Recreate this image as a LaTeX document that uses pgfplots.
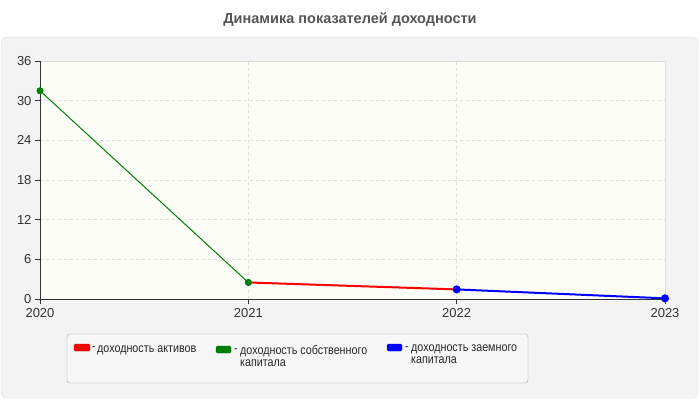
\documentclass[border=0pt]{standalone}
\usepackage{pgfplots}
\pgfplotsset{compat=1.18}
\usepackage{fontspec}
\setmainfont{Liberation Sans}
\definecolor{panel}{HTML}{F3F3F3}
\definecolor{panelborder}{HTML}{DDDDDD}
\definecolor{plotbg}{HTML}{FDFDF8}
\definecolor{gridc}{HTML}{DDDDDD}
\definecolor{axisc}{HTML}{333333}
\definecolor{titlec}{HTML}{555555}
\definecolor{lgreen}{HTML}{008000}
\definecolor{lred}{HTML}{FF0000}
\definecolor{lblue}{HTML}{0000FF}
\begin{document}
\begin{tikzpicture}
\path[use as bounding box] (0pt,0pt) rectangle (700pt,400pt);
\fill[white] (0pt,0pt) rectangle (700pt,400pt);
\draw[panelborder, fill=panel, rounded corners=6pt] (1pt,2pt) rectangle (698pt,363pt);
\node[font=\fontsize{14.5}{16}\selectfont\bfseries, text=titlec] at (350pt,380pt) {Динамика показателей доходности};
\begin{axis}[
  at={(40pt,101pt)}, anchor=south west,
  width=625pt, height=238pt, scale only axis,
  xmin=2020, xmax=2023, ymin=0, ymax=36,
  xtick={2020,2021,2022,2023},
  ytick={0,6,12,18,24,30,36},
  axis x line=bottom, axis y line=left,
  axis line style={axisc, -},
  axis background/.style={fill=plotbg, draw=gridc},
  grid=major, grid style={dashed, gridc, line width=0.6pt},
  tick align=outside, major tick length=5pt,
  tick style={axisc, line width=0.8pt},
  every tick label/.append style={font=\fontsize{13}{15}\selectfont, text=axisc},
  xticklabel style={yshift=-1pt},
  /pgf/number format/assume math mode=true,
  /pgf/number format/set thousands separator={},
  clip=false,
]
\addplot[lgreen, line width=1pt, mark=*, mark size=3pt, mark options={fill=lgreen}] coordinates {(2020,31.5) (2021,2.5)};
\addplot[lred, line width=2pt] coordinates {(2021,2.5) (2022,1.45)};
\addplot[lblue, line width=2pt, mark=*, mark size=3pt, mark options={fill=lblue}] coordinates {(2022,1.45) (2023,0.1)};
\addplot[only marks, lgreen, mark=*, mark size=3pt] coordinates {(2021,2.5)};
\end{axis}
% legend
\draw[draw=gray!70, fill=white!97!black, rounded corners=3pt] (67pt,17pt) rectangle (528pt,66pt);
\begin{scope}[font=\fontsize{12.5}{12.5}\selectfont, every node/.style={anchor=base west, inner sep=0pt, text=black!85, xscale=0.86}]
\draw[lred!80!black, fill=lred, rounded corners=1.5pt] (74pt,49pt) rectangle (90pt,56pt);
\node at (92pt,50pt) {-};
\node at (97pt,48pt) {доходность активов};
\draw[lgreen!80!black, fill=lgreen, rounded corners=1.5pt] (216pt,47pt) rectangle (231pt,54pt);
\node at (234pt,48pt) {-};
\node at (240pt,46pt) {доходность собственного};
\node at (240pt,34pt) {капитала};
\draw[lblue!80!black, fill=lblue, rounded corners=1.5pt] (387pt,49pt) rectangle (402pt,56pt);
\node at (405pt,50pt) {-};
\node at (411pt,48.5pt) {доходность заемного};
\node at (411pt,36.5pt) {капитала};
\end{scope}
\end{tikzpicture}
\end{document}
